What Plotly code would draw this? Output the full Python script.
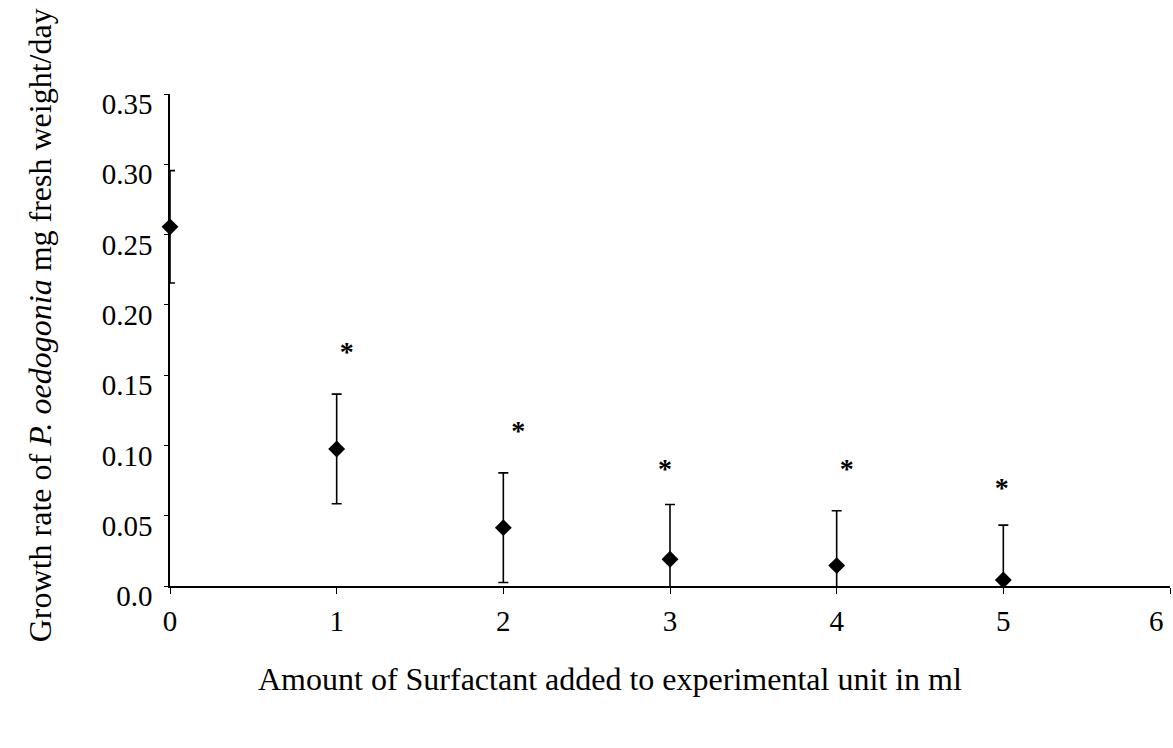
import plotly.graph_objects as go

# Data
surfactant_ml = [0, 1, 2, 3, 4, 5]
growth_rate = [0.2555, 0.0975, 0.0415, 0.019, 0.0145, 0.0043]
std_err = [0.040, 0.039, 0.039, 0.039, 0.039, 0.039]

# Significance asterisks (positions as drawn in the reference)
ast_x = [1.06, 2.09, 2.97, 4.06, 4.99]
ast_y = [0.165, 0.109, 0.082, 0.082, 0.068]

ytick_vals = [0, 0.05, 0.10, 0.15, 0.20, 0.25, 0.30, 0.35]
ytick_text = ["0.0", "0.05", "0.10", "0.15", "0.20", "0.25", "0.30", "0.35"]
xtick_vals = [0, 1, 2, 3, 4, 5, 6]
xtick_text = ["0", "1", "2", "3", "4", "5", ""]

FONT = "Liberation Serif, Times New Roman, serif"

fig = go.Figure()

# Error bars (clipped at the axes)
fig.add_trace(go.Scatter(
    x=surfactant_ml, y=growth_rate, mode="markers",
    marker=dict(size=1, color="rgba(0,0,0,0)"),
    error_y=dict(type="data", array=std_err, visible=True,
                 color="black", thickness=1.6, width=5),
    cliponaxis=True, showlegend=False, hoverinfo="skip",
))

# Markers (not clipped)
fig.add_trace(go.Scatter(
    x=surfactant_ml, y=growth_rate, mode="markers",
    marker=dict(symbol="diamond", size=13, color="black"),
    cliponaxis=False, showlegend=False,
))

# Asterisks
fig.add_trace(go.Scatter(
    x=ast_x, y=ast_y, mode="text", text=["<b>*</b>"] * len(ast_x),
    textposition="middle center",
    textfont=dict(family=FONT, size=28, color="black"),
    cliponaxis=False, showlegend=False, hoverinfo="skip",
))

fig.update_layout(
    width=1173, height=748,
    margin=dict(l=170, r=3, t=94, b=162),
    paper_bgcolor="white", plot_bgcolor="white",
    font=dict(family=FONT, size=29, color="black"),
    xaxis=dict(
        range=[0, 6], tickvals=xtick_vals, ticktext=xtick_text,
        ticks="outside", ticklen=6,
        tickcolor="black", showline=True, linecolor="black", linewidth=1.5,
        showgrid=False, zeroline=False, ticklabelstandoff=2,
        tickfont=dict(family=FONT, size=29, color="black"),
    ),
    yaxis=dict(
        range=[0, 0.35], tickvals=ytick_vals, ticktext=ytick_text,
        ticks="outside", ticklen=4, tickcolor="black",
        showline=True, linecolor="black", linewidth=1.5,
        showgrid=False, zeroline=False, ticklabelstandoff=6,
        ticklabelshift=10,
        tickfont=dict(family=FONT, size=29, color="black"),
    ),
    annotations=[
        dict(text="6", xref="x", yref="paper", x=6, y=-0.035,
             xanchor="right", yanchor="top", xshift=-4, showarrow=False,
             font=dict(family=FONT, size=29, color="black")),
        dict(text="Amount of Surfactant added to experimental unit in ml",
             xref="paper", yref="paper", x=0.44, y=-0.19,
             xanchor="center", yanchor="middle", showarrow=False,
             font=dict(family=FONT, size=32, color="black")),
        dict(text="Growth rate of <i>P. oedogonia</i> mg fresh weight/day",
             xref="paper", yref="paper", x=-0.13, y=0.53,
             xanchor="center", yanchor="middle", textangle=-90, showarrow=False,
             font=dict(family=FONT, size=32, color="black")),
    ],
)

fig.write_html("out.html")
